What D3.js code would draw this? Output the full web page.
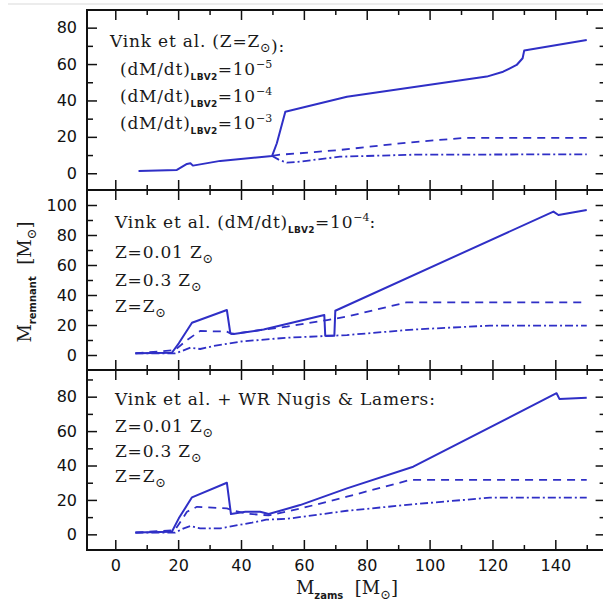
<!DOCTYPE html>
<html>
<head>
<meta charset="utf-8">
<script src="https://cdn.jsdelivr.net/npm/d3@7"></script>
<style>
  body { margin: 0; background: #fff; }
  .tick text { font-family: 'DejaVu Sans', sans-serif; font-size: 16px; fill: #111; }
  .tick line { stroke: #111; stroke-width: 1.5; }
  .legend { font-family: 'DejaVu Serif', serif; font-size: 17px; letter-spacing: 0.8px; fill: #1a1a1a; }
</style>
</head>
<body>
<div id="chart"></div>
<script>
// [M_zams, M_remnant] pairs

// top panel: Vink et al. (Z = Zsun), different LBV2 rates
const topRate5 = [[7.4, 1.3], [19.6, 1.8], [22.8, 5.1], [23.9, 5.5], [24.7, 4.2], [33.4, 6.8], [49.9, 9.5],
  [51.4, 16.5], [54.1, 33.8], [73.7, 42], [118.2, 53.1], [123.4, 55.8], [127.7, 59.5], [129.6, 63.2],
  [130.1, 67.4], [150, 73.2]]
const topRate4 = [[49.9, 9.5], [52.4, 10.2], [58.8, 11], [71.5, 12.8], [92.7, 16.8], [110.7, 19.4], [150, 19.4]]
const topRate3 = [[49.9, 9.5], [52, 7.5], [54.6, 5.8], [58.8, 6.4], [71.5, 9.1], [95, 10.2], [150, 10.4]]

// middle panel: Vink et al., LBV2 = 1e-4, three metallicities
const midZ001 = [[6.4, 1.1], [18, 1.5], [20.2, 7.8], [24.4, 21.5], [35.5, 30], [36.6, 14.5], [37.7, 14],
  [47.2, 17], [66.5, 26.7], [66.8, 12.9], [69.7, 12.9], [70, 29.5], [139.4, 95.6], [141, 93.3], [150, 96.7]]
const midZ03 = [[6.4, 1.1], [19, 3.3], [22.8, 10], [27, 16], [35.5, 15.6], [37, 14], [54.6, 18.9],
  [67.4, 23.3], [73.7, 25.6], [92.7, 35.1], [150, 35.1]]
const midZ1 = [[6.4, 1.1], [19, 1.1], [21, 2.5], [23.9, 4.9], [27, 4], [31.3, 6], [40, 9], [54.6, 11.5],
  [73.7, 13.3], [95, 17], [119.2, 19.6], [150, 19.6]]

// bottom panel: Vink et al. + WR Nugis & Lamers
const botZ001 = [[6.4, 1], [18, 1.5], [20.2, 9.3], [24.4, 21.5], [35.5, 30], [36.8, 11.8], [41.4, 13.1],
  [46.1, 13.1], [48.8, 11.8], [58.8, 17], [73.7, 26.7], [94.8, 39.3], [140.4, 82], [141.3, 78.7], [150, 79.4]]
const botZ03 = [[6.4, 1], [19, 2.5], [22.8, 13.1], [26, 16], [35.5, 15.1], [37, 14.1], [42, 12], [48.8, 11],
  [60, 15.5], [73.7, 21.9], [93.8, 31.6], [150, 31.6]]
const botZ1 = [[6.4, 1], [19, 1], [21.8, 3.5], [23.9, 4.8], [27, 3.5], [33.4, 3.5], [43.5, 6.8], [48, 8.5],
  [54.6, 9], [73.7, 13.7], [95, 17.5], [119.2, 21.3], [150, 21.3]]

const xTicks = [0, 20, 40, 60, 80, 100, 120, 140]
const xMinor = [10, 30, 50, 70, 90, 110, 130, 150]
const yTicksTop = [0, 20, 40, 60, 80]
const yTicksMid = [0, 20, 40, 60, 80, 100]
const yTicksBot = [0, 20, 40, 60, 80]

const width = 603
const height = 608
const left = 87
const right = 605.6
const blue = '#2f2fc6'

const svg = d3.select('#chart').append('svg')
  .attr('width', width)
  .attr('height', height)

// faint scan edge at the top
svg.append('line')
  .attr('x1', 8).attr('x2', width).attr('y1', 4).attr('y2', 4)
  .attr('stroke', '#e6e6e6').attr('stroke-width', 1.5)

const x = d3.scaleLinear().domain([-9, 156]).range([left, right])

const panels = [
  { top: 10, bottom: 190, domain: [-9.2, 89.7], ticks: yTicksTop, series: [topRate5, topRate4, topRate3] },
  { top: 190, bottom: 370, domain: [-10, 110], ticks: yTicksMid, series: [midZ001, midZ03, midZ1] },
  { top: 370, bottom: 550, domain: [-9.1, 95.5], ticks: yTicksBot, series: [botZ001, botZ03, botZ1] }
]

const dashes = [null, '8,6', '8,3,2,3']
const noLabel = () => ''

panels.forEach((p, i) => {
  const y = d3.scaleLinear().domain(p.domain).range([p.bottom, p.top])
  const minorY = d3.range(10, p.domain[1], 20).filter((v) => v < p.domain[1] - 1)
  const g = svg.append('g')
  const isLast = i === panels.length - 1

  // x ticks, top and bottom
  g.append('g').attr('transform', `translate(0,${p.bottom})`)
    .call(d3.axisBottom(x).tickValues(xTicks).tickSize(-10).tickPadding(10)
      .tickFormat(isLast ? d3.format('d') : noLabel))
  g.append('g').attr('transform', `translate(0,${p.bottom})`)
    .call(d3.axisBottom(x).tickValues(xMinor).tickSize(-5).tickFormat(noLabel))
  g.append('g').attr('transform', `translate(0,${p.top})`)
    .call(d3.axisTop(x).tickValues(xTicks).tickSize(-10).tickFormat(noLabel))
  g.append('g').attr('transform', `translate(0,${p.top})`)
    .call(d3.axisTop(x).tickValues(xMinor).tickSize(-5).tickFormat(noLabel))

  // y ticks, left and right
  g.append('g').attr('transform', `translate(${left},0)`)
    .call(d3.axisLeft(y).tickValues(p.ticks).tickSize(-10).tickPadding(10).tickFormat(d3.format('d')))
  g.append('g').attr('transform', `translate(${left},0)`)
    .call(d3.axisLeft(y).tickValues(minorY).tickSize(-6).tickFormat(noLabel))
  g.append('g').attr('transform', `translate(${right},0)`)
    .call(d3.axisRight(y).tickValues(p.ticks).tickSize(-10).tickFormat(noLabel))
  g.append('g').attr('transform', `translate(${right},0)`)
    .call(d3.axisRight(y).tickValues(minorY).tickSize(-6).tickFormat(noLabel))

  g.selectAll('.domain').remove()

  const line = d3.line().x((d) => x(d[0])).y((d) => y(d[1]))

  g.selectAll('.series')
    .data(p.series)
    .join('path')
    .attr('class', 'series')
    .attr('d', line)
    .attr('fill', 'none')
    .attr('stroke', blue)
    .attr('stroke-width', (d, j) => j === 0 ? 2 : 1.8)
    .attr('stroke-dasharray', (d, j) => dashes[j])
    .attr('stroke-linejoin', 'round')

  g.append('rect')
    .attr('x', left).attr('y', p.top)
    .attr('width', right - left).attr('height', p.bottom - p.top)
    .attr('fill', 'none').attr('stroke', '#111').attr('stroke-width', 2)
})

// legend text helpers
function sun (t) {
  t.append('tspan').attr('dy', 5).attr('font-size', 13).attr('letter-spacing', 0).text('\u2299')
  t.append('tspan').attr('dy', -5).text('')
}

function rateLine (xPos, yPos, exp) {
  const t = svg.append('text').attr('class', 'legend').attr('x', xPos).attr('y', yPos)
  t.append('tspan').text('(dM/dt)')
  t.append('tspan').attr('dy', 5).attr('font-family', 'DejaVu Sans').attr('font-weight', 'bold')
    .attr('font-size', 9).attr('letter-spacing', 0.4).text('LBV2')
  t.append('tspan').attr('dy', -5).text('=10')
  t.append('tspan').attr('dy', -7).attr('font-size', 11).attr('letter-spacing', 0).text('\u2212' + exp)
  return t
}

function zLine (xPos, yPos, label) {
  const t = svg.append('text').attr('class', 'legend').attr('x', xPos).attr('y', yPos)
  t.append('tspan').text(label)
  sun(t)
}

// top legend
const t1 = svg.append('text').attr('class', 'legend').attr('x', 110).attr('y', 47)
t1.append('tspan').text('Vink et al. (Z=Z')
sun(t1)
t1.append('tspan').text('):')
rateLine(120, 75, 5)
rateLine(120, 102, 4)
rateLine(120, 129, 3)

// middle legend
const t2 = svg.append('text').attr('class', 'legend').attr('x', 115).attr('y', 228)
t2.append('tspan').text('Vink et al. (dM/dt)')
t2.append('tspan').attr('dy', 5).attr('font-family', 'DejaVu Sans').attr('font-weight', 'bold')
  .attr('font-size', 9).attr('letter-spacing', 0.4).text('LBV2')
t2.append('tspan').attr('dy', -5).text('=10')
t2.append('tspan').attr('dy', -7).attr('font-size', 11).attr('letter-spacing', 0).text('\u22124')
t2.append('tspan').attr('dy', 7).text(':')
zLine(115, 258, 'Z=0.01 Z')
zLine(115, 286, 'Z=0.3 Z')
zLine(115, 312, 'Z=Z')

// bottom legend
svg.append('text').attr('class', 'legend').attr('x', 115).attr('y', 405)
  .text('Vink et al. + WR Nugis & Lamers:')
zLine(115, 432, 'Z=0.01 Z')
zLine(115, 457, 'Z=0.3 Z')
zLine(115, 482, 'Z=Z')

// axis titles
function axisTitle (t, sub) {
  t.append('tspan').text('M')
  t.append('tspan').attr('dy', 5).attr('font-family', 'DejaVu Sans').attr('font-weight', 'bold')
    .attr('font-size', 10).text(sub)
  t.append('tspan').attr('dy', -5).text('  [M')
  t.append('tspan').attr('dy', 5).attr('font-size', 13).text('\u2299')
  t.append('tspan').attr('dy', -5).text(']')
}

const xTitle = svg.append('text')
  .attr('x', 347).attr('y', 594)
  .attr('text-anchor', 'middle')
  .attr('font-family', 'DejaVu Serif').attr('font-size', 18).attr('fill', '#1a1a1a')
  .attr('xml:space', 'preserve')
axisTitle(xTitle, 'zams')

const yTitle = svg.append('text')
  .attr('transform', 'translate(31,282) rotate(-90)')
  .attr('text-anchor', 'middle')
  .attr('font-family', 'DejaVu Serif').attr('font-size', 18).attr('fill', '#1a1a1a')
  .attr('xml:space', 'preserve')
axisTitle(yTitle, 'remnant')
</script>
</body>
</html>
